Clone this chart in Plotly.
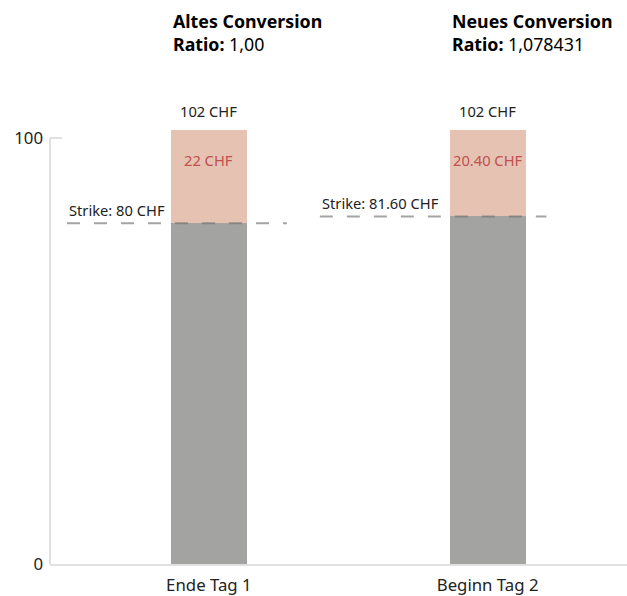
import plotly.graph_objects as go

categories = ["Ende Tag 1", "Beginn Tag 2"]
strike_values = [80.0, 81.6]
premium_values = [22.0, 20.4]
total_labels = ["102 CHF", "102 CHF"]
premium_labels = ["22 CHF", "20.40 CHF"]
strike_labels = ["Strike: 80 CHF", "Strike: 81.60 CHF"]
title_names = ["Altes Conversion", "Neues Conversion"]
ratio_labels = ["1,00", "1,078431"]
y_ticks = [0, 100]

FONT = "Noto Sans"
GRAY = "#a3a3a2"
SALMON = "#e5c2b2"
RED = "#c0504d"
TEXT = "#222222"
AXIS = "#e0e0e0"

x_pos = list(range(len(categories)))
bar_w = 0.272
# dashed strike line extents relative to category centre
line_offsets = [(-0.509, 0.28), (-0.602, 0.211)]
Y_MAX = 132.4

fig = go.Figure()
fig.add_trace(go.Bar(x=x_pos, y=strike_values, width=bar_w, marker=dict(color=GRAY, line=dict(width=0)),
                     hoverinfo="skip"))
fig.add_trace(go.Bar(x=x_pos, y=premium_values, width=bar_w, marker=dict(color=SALMON, line=dict(width=0)),
                     hoverinfo="skip"))

for i, s in enumerate(strike_values):
    a, b = line_offsets[i]
    fig.add_trace(go.Scatter(x=[i + a, i + b], y=[s, s], mode="lines",
                             line=dict(color="rgba(115,115,115,0.65)", width=2, dash="13px,14px"),
                             hoverinfo="skip"))
    fig.add_annotation(x=i + a, y=s, text=strike_labels[i], showarrow=False, xanchor="left",
                       yanchor="middle", yshift=13, font=dict(family=FONT, size=14.7, color=TEXT))

for i in x_pos:
    total = strike_values[i] + premium_values[i]
    fig.add_annotation(x=i, y=total, text=total_labels[i], showarrow=False, yanchor="middle", yshift=19,
                       font=dict(family=FONT, size=14.7, color=TEXT))
    fig.add_annotation(x=i, y=total, text=premium_labels[i], showarrow=False, yanchor="middle", yshift=-30,
                       font=dict(family=FONT, size=14.7, color=RED))
    fig.add_annotation(x=i - bar_w / 2, xref="x", y=0.987, yref="paper", xanchor="left", yanchor="top",
                       align="left", showarrow=False,
                       text=f"<b>{title_names[i]}</b><br><b>Ratio:</b> {ratio_labels[i]}",
                       font=dict(family=FONT, size=17.8, color="#000000"))

# y axis line only up to the top tick, with a short inward tick at the top
fig.add_shape(type="line", xref="paper", yref="y", x0=0, x1=0, y0=y_ticks[0], y1=y_ticks[-1],
              line=dict(color=AXIS, width=2), layer="below")
fig.add_shape(type="line", xref="paper", yref="y", x0=0, x1=12 / 577, y0=y_ticks[-1], y1=y_ticks[-1],
              line=dict(color=AXIS, width=2), layer="below")

fig.update_layout(
    width=627, height=596,
    margin=dict(l=50, r=0, t=0, b=28),
    barmode="stack", showlegend=False,
    plot_bgcolor="white", paper_bgcolor="white",
    font=dict(family=FONT, color=TEXT),
    xaxis=dict(range=[-0.57, 1.5], tickvals=x_pos, ticktext=categories, showgrid=False, zeroline=False,
               showline=True, linecolor=AXIS, linewidth=2, ticks="", tickfont=dict(size=16.8, color=TEXT),
               ticklabelstandoff=5),
    yaxis=dict(range=[0, Y_MAX], tickvals=y_ticks, showgrid=False, zeroline=False, showline=False,
               ticks="", tickfont=dict(size=16.8, color=TEXT), ticklabelstandoff=6),
)

fig.write_html("out.html", config={"displayModeBar": False},
               post_script="document.body.style.margin='0px';document.body.style.padding='0px';")
